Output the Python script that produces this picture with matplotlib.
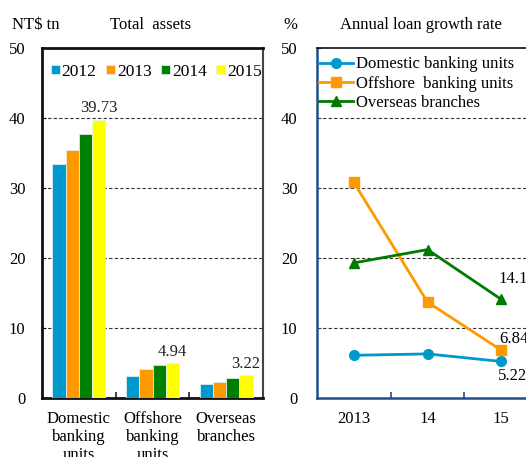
import matplotlib
matplotlib.use("Agg")
import matplotlib.pyplot as plt
import numpy as np

plt.rcParams["font.family"] = ["Liberation Serif", "DejaVu Serif"]
plt.rcParams["font.size"] = 12

# ------------------------------------------------------------------
# Data
# ------------------------------------------------------------------
groups = ["Domestic\nbanking\nunits", "Offshore\nbanking\nunits", "Overseas\nbranches"]
years = ["2012", "2013", "2014", "2015"]
assets_2012 = [33.4, 3.1, 2.0]
assets_2013 = [35.5, 4.1, 2.33]
assets_2014 = [37.7, 4.66, 2.9]
assets_2015 = [39.73, 4.94, 3.22]
bar_colors = ["#0099CC", "#FF9900", "#008000", "#FFFF00"]

growth_years = ["2013", "14", "15"]
domestic_growth = [6.1, 6.3, 5.22]
offshore_growth = [30.8, 13.7, 6.84]
overseas_growth = [19.3, 21.2, 14.1]
line_names = ["Domestic banking units", "Offshore  banking units", "Overseas branches"]

W, H = 526, 457
fig = plt.figure(figsize=(W / 100, H / 100), dpi=100)
fig.patch.set_facecolor("white")


def fx(px):
    return px / W


def fy(py):
    return 1 - py / H


FS = 12

# ------------------------------------------------------------------
# Left: total assets bars
# ------------------------------------------------------------------
ax1 = fig.add_axes([fx(42), fy(398), fx(263 - 42), (398 - 48) / H])
series = [assets_2012, assets_2013, assets_2014, assets_2015]
x = np.arange(len(groups))
bw = 0.18
for i, (vals, c, yr) in enumerate(zip(series, bar_colors, years)):
    ax1.bar(x + (i - 1.5) * bw, vals, bw, color=c, label=yr,
            edgecolor="#e8f4f8", linewidth=0.5, zorder=3)

for j, v in enumerate(assets_2015):
    ax1.text(x[j] + 1.5 * bw, v + 0.5, f"{v:.2f}", ha="center", va="bottom",
             fontsize=FS, color="#222222")

ax1.set_xlim(-0.5, 2.5)
ax1.set_ylim(0, 50)
ax1.set_yticks([0, 10, 20, 30, 40, 50])
ax1.set_xticks([0.5, 1.5])
ax1.set_xticklabels([])
ax1.tick_params(axis="x", direction="in", length=4, width=1.2, color="#222222")
ax1.tick_params(axis="y", direction="in", length=3, pad=12, labelsize=FS)
for g_i, g in enumerate(groups):
    ax1.text(x[g_i], -1.8, g, ha="center", va="top", fontsize=FS,
             linespacing=1.2)
for yv in [10, 20, 30, 40]:
    ax1.axhline(yv, color="#333333", lw=0.8, ls=(0, (3, 2)), zorder=1)
for s in ax1.spines.values():
    s.set_linewidth(2)
    s.set_color("#111111")
ax1.spines["right"].set_linewidth(1.5)
ax1.spines["right"].set_color("#444444")

ax1.legend(loc="upper left", ncol=4, frameon=False, bbox_to_anchor=(-0.015, 0.99),
           handlelength=0.5, handleheight=0.5, handletextpad=0.12,
           columnspacing=0.55, fontsize=12.5, borderaxespad=0.3)

fig.text(fx(12), fy(25), "NT$ tn", ha="left", va="center", fontsize=FS)
fig.text(fx(151), fy(25), "Total  assets", ha="center", va="center", fontsize=FS)

# ------------------------------------------------------------------
# Right: loan growth lines
# ------------------------------------------------------------------
ax2 = fig.add_axes([fx(317), fy(398), fx(538 - 317), (398 - 48) / H])
xs = np.arange(len(growth_years))
ax2.plot(xs, domestic_growth, color="#0099CC", lw=2, marker="o", markersize=7,
         label=line_names[0], zorder=3)
ax2.plot(xs, offshore_growth, color="#FF9900", lw=2, marker="s", markersize=7,
         label=line_names[1], zorder=3)
ax2.plot(xs, overseas_growth, color="#007A00", lw=2, marker="^", markersize=7,
         label=line_names[2], zorder=3)

ax2.text(xs[2] - 0.04, overseas_growth[2] + 1.8, f"{overseas_growth[2]}",
         ha="left", va="bottom", fontsize=FS)
ax2.text(xs[2] - 0.02, offshore_growth[2] + 0.5, f"{offshore_growth[2]:.2f}",
         ha="left", va="bottom", fontsize=FS)
ax2.text(xs[2] - 0.05, domestic_growth[2] - 1.0, f"{domestic_growth[2]:.2f}",
         ha="left", va="top", fontsize=FS)

ax2.set_xlim(-0.5, 2.5)
ax2.set_ylim(0, 50)
ax2.set_yticks([0, 10, 20, 30, 40, 50])
ax2.set_xticks([0.5, 1.5])
ax2.set_xticklabels([])
ax2.tick_params(axis="x", direction="in", length=4, width=1.2, color="#1F4E8C")
ax2.tick_params(axis="y", direction="in", length=3, pad=14, color="#1F4E8C",
                labelsize=FS)
for i, lab in enumerate(growth_years):
    ax2.text(xs[i], -1.8, lab, ha="center", va="top", fontsize=FS)
for yv in [10, 20, 30, 40]:
    ax2.axhline(yv, color="#333333", lw=0.8, ls=(0, (3, 2)), zorder=1)
ax2.spines["left"].set_color("#1F4E8C")
ax2.spines["left"].set_linewidth(1.8)
ax2.spines["bottom"].set_color("#1F4E8C")
ax2.spines["bottom"].set_linewidth(1.8)
ax2.spines["top"].set_color("#111111")
ax2.spines["top"].set_linewidth(1.2)

ax2.legend(loc="upper left", frameon=False, bbox_to_anchor=(-0.02, 0.995),
           handlelength=2.0, handletextpad=0.2, labelspacing=0.2,
           fontsize=12, borderaxespad=0.2, borderpad=0.2)

fig.text(fx(290), fy(25), "%", ha="center", va="center", fontsize=FS)
fig.text(fx(421), fy(25), "Annual loan growth rate", ha="center", va="center",
         fontsize=FS)

fig.savefig("out.png", dpi=100, facecolor="white")
